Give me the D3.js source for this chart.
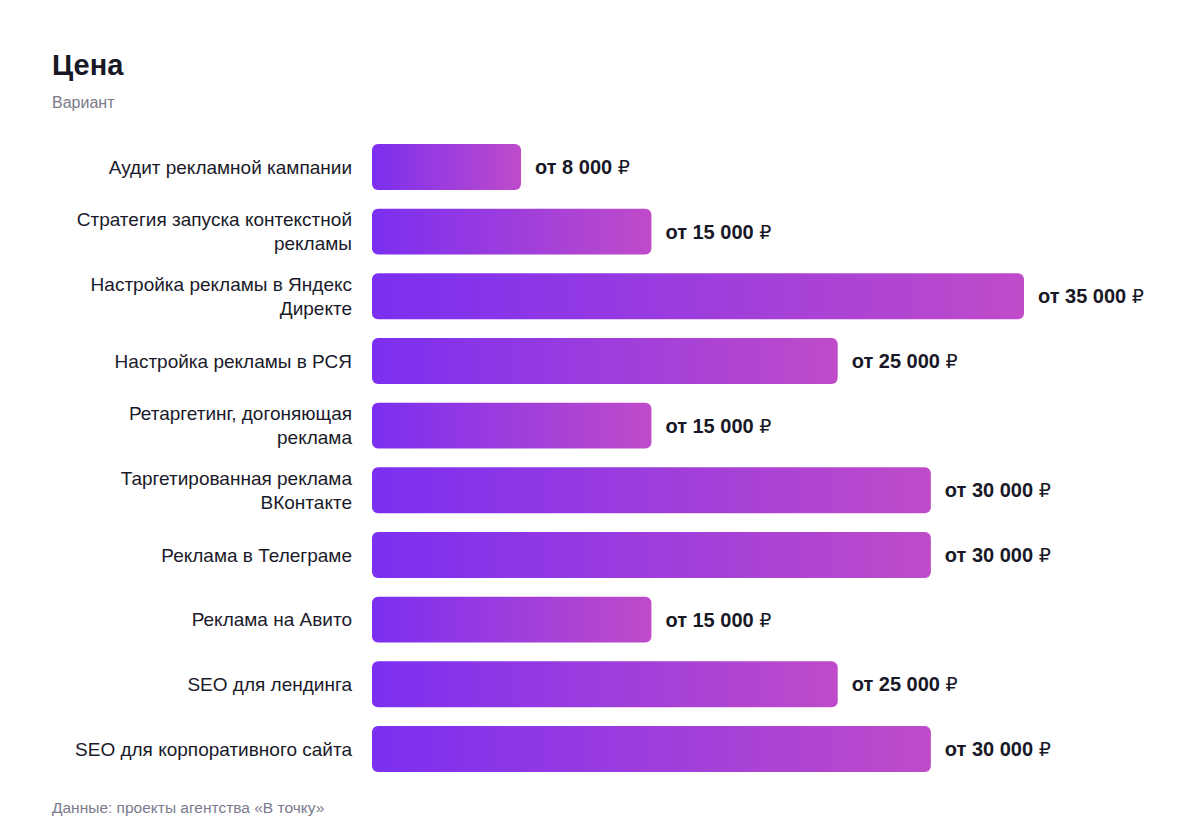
<!DOCTYPE html>
<html>
<head>
<meta charset="utf-8">
<script src="https://cdn.jsdelivr.net/npm/d3@7"></script>
<style>
  body { margin: 0; background: #fff; font-family: "Liberation Sans", Arial, sans-serif; }
</style>
</head>
<body>
<div id="chart"></div>
<script>
// data
const services = [
  "Аудит рекламной кампании",
  "Стратегия запуска контекстной рекламы",
  "Настройка рекламы в Яндекс Директе",
  "Настройка рекламы в РСЯ",
  "Ретаргетинг, догоняющая реклама",
  "Таргетированная реклама ВКонтакте",
  "Реклама в Телеграме",
  "Реклама на Авито",
  "SEO для лендинга",
  "SEO для корпоративного сайта"
];
// how the long names wrap in the picture
const labelLines = [
  ["Аудит рекламной кампании"],
  ["Стратегия запуска контекстной", "рекламы"],
  ["Настройка рекламы в Яндекс", "Директе"],
  ["Настройка рекламы в РСЯ"],
  ["Ретаргетинг, догоняющая", "реклама"],
  ["Таргетированная реклама", "ВКонтакте"],
  ["Реклама в Телеграме"],
  ["Реклама на Авито"],
  ["SEO для лендинга"],
  ["SEO для корпоративного сайта"]
];
const prices = [8000, 15000, 35000, 25000, 15000, 30000, 30000, 15000, 25000, 30000];

const width = 1200, height = 840;
const x0 = 372;

const svg = d3.select("#chart").append("svg")
    .attr("width", width)
    .attr("height", height);

// gradient for the bars, stretched over each bar
const defs = svg.append("defs");
const grad = defs.append("linearGradient")
    .attr("id", "barGrad")
    .attr("x1", "0%").attr("y1", "0%")
    .attr("x2", "100%").attr("y2", "0%");
grad.append("stop").attr("offset", "0%").attr("stop-color", "#7b2ff0");
grad.append("stop").attr("offset", "100%").attr("stop-color", "#bf4bc9");

const x = d3.scaleLinear()
    .domain([0, 35000])
    .range([0, 652]);

const y = d3.scaleBand()
    .domain(d3.range(services.length))
    .range([134.6, 781.3])
    .paddingInner(0.29)
    .paddingOuter(0.145);

// title + subtitle
svg.append("text")
    .attr("x", 52).attr("y", 75)
    .attr("font-size", 29)
    .attr("font-weight", "bold")
    .attr("fill", "#181827")
    .text("Цена");

svg.append("text")
    .attr("x", 52).attr("y", 108)
    .attr("font-size", 16)
    .attr("fill", "#7a7a8c")
    .text("Вариант");

// bars
svg.append("g").selectAll("rect")
  .data(prices)
  .join("rect")
    .attr("x", x0)
    .attr("y", (d, i) => y(i))
    .attr("width", d => x(d))
    .attr("height", y.bandwidth())
    .attr("rx", 6)
    .attr("fill", "url(#barGrad)");

// category labels (right aligned)
const lab = svg.append("g").selectAll("text")
  .data(labelLines)
  .join("text")
    .attr("text-anchor", "end")
    .attr("font-size", 19)
    .attr("fill", "#1a1a2a")
    .attr("transform", (d, i) => `translate(352, ${y(i) + y.bandwidth() / 2})`);

lab.each(function(lines) {
  const t = d3.select(this);
  const lh = 24;
  const off = -(lines.length - 1) * lh / 2;
  lines.forEach((ln, k) => {
    t.append("tspan")
      .attr("x", 0)
      .attr("y", off + k * lh)
      .attr("dy", "0.35em")
      .text(ln);
  });
});

// value labels
const fmt = v => d3.format(",")(v).replace(/,/g, "\u00a0");
const val = svg.append("g").selectAll("text")
  .data(prices)
  .join("text")
    .attr("x", d => x0 + x(d) + 14)
    .attr("y", (d, i) => y(i) + y.bandwidth() / 2)
    .attr("dy", "0.35em")
    .attr("font-size", 20)
    .attr("font-weight", "bold")
    .attr("fill", "#181827");
val.append("tspan").text(d => "от " + fmt(d) + " ");
val.append("tspan")
    .attr("font-weight", "normal")
    .attr("font-family", "DejaVu Sans")
    .attr("font-size", 19)
    .text("₽");

// source
svg.append("text")
    .attr("x", 52).attr("y", 813)
    .attr("font-size", 15.5)
    .attr("fill", "#7a7a8c")
    .text("Данные: проекты агентства «В точку»");
</script>
</body>
</html>
